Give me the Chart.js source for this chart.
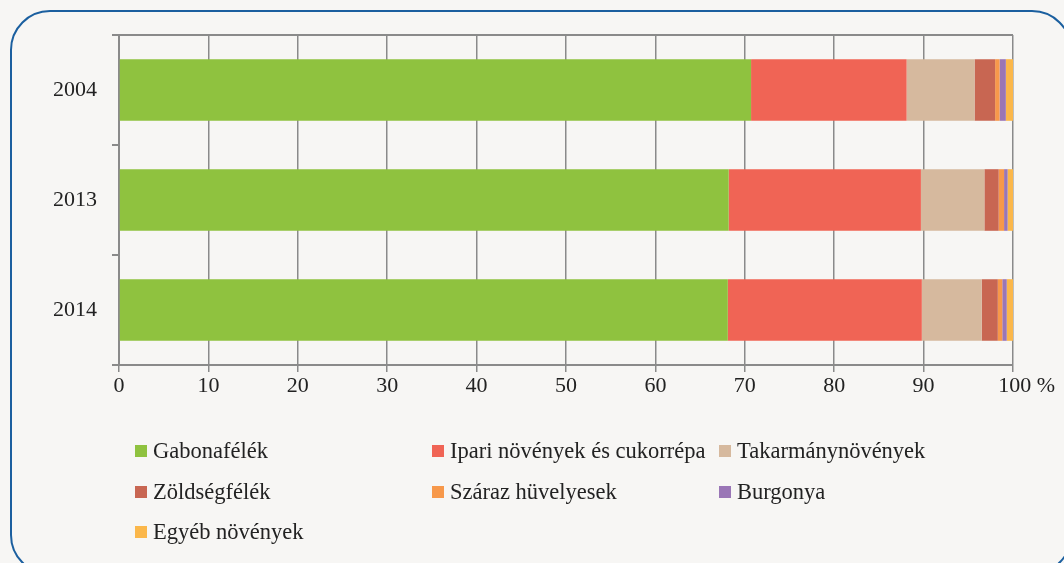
<!DOCTYPE html>
<html>
<head>
<meta charset="utf-8">
<script src="https://cdn.jsdelivr.net/npm/chart.js@4"></script>
<style>
  html, body { margin: 0; padding: 0; background: #f7f6f4; overflow: hidden; }
  body { width: 1064px; height: 563px; position: relative; }
  #frame {
    position: absolute; left: 10px; top: 10px; width: 1062px; height: 565px;
    border: 2px solid #1b5f9f; border-radius: 40px; box-sizing: border-box;
  }
  #wrap { position: absolute; left: 0; top: 0; width: 1064px; height: 400px; }
  #legend { position: absolute; left: 0; top: 0; width: 1064px; height: 563px; pointer-events: none;
    font-family: "Liberation Serif", serif; font-size: 22.5px; color: #222; }
  .item { position: absolute; white-space: nowrap; line-height: 24px; }
  .item span.box { display: inline-block; width: 12px; height: 12px; margin-right: 6px; vertical-align: 1px; }
</style>
</head>
<body>
<div id="frame"></div>
<div id="wrap"><canvas id="chart"></canvas></div>
<div id="legend"></div>
<script>
// kategóriák (évek)
const years = ["2004", "2013", "2014"];

// sorozatok, százalék
const gabona = [70.7, 68.2, 68.1];
const ipari = [17.4, 21.5, 21.7];
const takarmany = [7.6, 7.1, 6.7];
const zoldseg = [2.3, 1.6, 1.8];
const huvelyes = [0.5, 0.6, 0.5];
const burgonya = [0.7, 0.4, 0.5];
const egyeb = [0.8, 0.6, 0.7];

const xTicks = [0, 10, 20, 30, 40, 50, 60, 70, 80, 90, 100];

const series = [
  { label: "Gabonafélék", data: gabona, color: "#8fc23f" },
  { label: "Ipari növények és cukorrépa", data: ipari, color: "#f06455" },
  { label: "Takarmánynövények", data: takarmany, color: "#d6b99e" },
  { label: "Zöldségfélék", data: zoldseg, color: "#c86652" },
  { label: "Száraz hüvelyesek", data: huvelyes, color: "#f7984a" },
  { label: "Burgonya", data: burgonya, color: "#9a76b6" },
  { label: "Egyéb növények", data: egyeb, color: "#fbb74a" }
];

const gray = "#8a8a8a";
const font = { family: "Liberation Serif", size: 22 };

new Chart(document.getElementById("chart"), {
  type: "bar",
  data: {
    labels: years,
    datasets: series.map(s => ({
      label: s.label,
      data: s.data,
      backgroundColor: s.color,
      borderWidth: 0,
      barPercentage: 0.56,
      categoryPercentage: 1
    }))
  },
  options: {
    indexAxis: "y",
    responsive: true,
    maintainAspectRatio: false,
    animation: false,
    layout: { padding: { top: 35, right: 51, left: 0, bottom: 0 } },
    plugins: { legend: { display: false }, tooltip: { enabled: false } },
    scales: {
      x: {
        stacked: true,
        min: 0,
        max: 100,
        afterBuildTicks: scale => { scale.ticks = xTicks.map(v => ({ value: v })); },
        afterFit: scale => { scale.height = 35; },
        ticks: {
          font: font,
          color: "#222",
          padding: 1,
          maxRotation: 0,
          callback: v => v === 100 ? "     100 %" : v
        },
        grid: { color: gray, lineWidth: 1.5, tickLength: 7, tickColor: gray },
        border: { color: gray, width: 2 }
      },
      y: {
        stacked: true,
        afterFit: scale => { scale.width = 119; },
        ticks: { font: font, color: "#222", padding: 15 },
        grid: {
          offset: true,
          color: ctx => ctx.index === 0 ? gray : "transparent",
          tickColor: gray,
          lineWidth: 2,
          tickLength: 7
        },
        border: { color: gray, width: 2 }
      }
    }
  }
});

// jelmagyarázat három oszlopban
const legend = document.getElementById("legend");
const cols = [135, 432, 719];
const rows = [439, 480, 520];
series.forEach((s, i) => {
  const el = document.createElement("div");
  el.className = "item";
  el.style.left = cols[i % 3] + "px";
  el.style.top = rows[Math.floor(i / 3)] + "px";
  el.innerHTML = '<span class="box" style="background:' + s.color + '"></span>' + s.label;
  legend.appendChild(el);
});
</script>
</body>
</html>
